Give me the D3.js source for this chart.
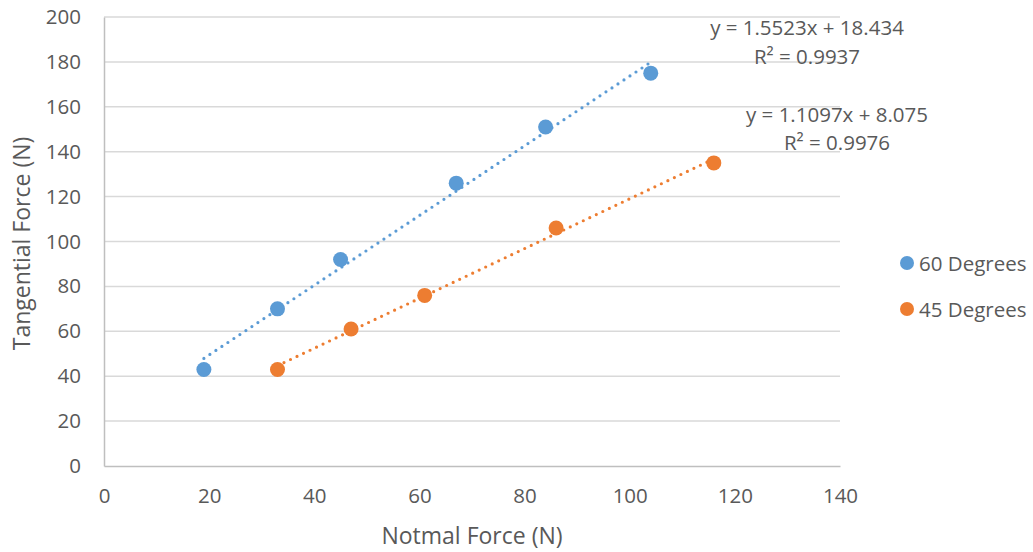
<!DOCTYPE html>
<html>
<head>
<meta charset="utf-8">
<script src="https://cdn.jsdelivr.net/npm/d3@7"></script>
<style>
  html, body { margin: 0; padding: 0; background: #fff; }
  svg text { font-family: "Open Sans", "Noto Sans", sans-serif; fill: #595959; }
</style>
</head>
<body>
<svg id="chart" width="1033" height="552"></svg>
<script>
// Measured forces for the two incline angles
const seriesNames = ["60 Degrees", "45 Degrees"];
const seriesColors = ["#5B9BD5", "#ED7D31"];
const normal60 = [19, 33, 45, 67, 84, 104];
const tangential60 = [43, 70, 92, 126, 151, 175];
const normal45 = [33, 47, 61, 86, 116];
const tangential45 = [43, 61, 76, 106, 135];

// Linear trendline fits shown on the chart
const slopes = [1.5523, 1.1097];
const intercepts = [18.434, 8.075];
const equationLabels = ["y = 1.5523x + 18.434", "y = 1.1097x + 8.075"];
const r2Labels = ["R² = 0.9937", "R² = 0.9976"];

const xTicks = [0, 20, 40, 60, 80, 100, 120, 140];
const yTicks = [0, 20, 40, 60, 80, 100, 120, 140, 160, 180, 200];

const svg = d3.select("#chart");
const plot = { left: 104, right: 840, top: 17, bottom: 466 };
const fontStack = '"Open Sans", "Noto Sans", sans-serif';

const x = d3.scaleLinear().domain([0, 140]).range([plot.left, plot.right]);
const y = d3.scaleLinear().domain([0, 200]).range([plot.bottom, plot.top]);

// Horizontal gridlines
svg.append("g")
  .selectAll("line")
  .data(yTicks.filter(d => d > 0))
  .join("line")
  .attr("x1", plot.left).attr("x2", plot.right)
  .attr("y1", d => y(d)).attr("y2", d => y(d))
  .attr("stroke", "#d9d9d9").attr("stroke-width", 1.5);

// Axes
const xAxis = svg.append("g")
  .attr("transform", `translate(0,${plot.bottom})`)
  .call(d3.axisBottom(x).tickValues(xTicks).tickSize(0).tickPadding(22));
const yAxis = svg.append("g")
  .attr("transform", `translate(${plot.left},0)`)
  .call(d3.axisLeft(y).tickValues(yTicks).tickSize(0).tickPadding(23));
[xAxis, yAxis].forEach(a => {
  a.select(".domain").attr("stroke", "#bfbfbf").attr("stroke-width", 1.5);
  a.selectAll("text").attr("font-size", 20.5).attr("fill", "#595959")
    .style("font-family", fontStack);
});

// Axis titles
svg.append("text")
  .attr("x", (plot.left + plot.right) / 2).attr("y", 544)
  .attr("text-anchor", "middle").attr("font-size", 23)
  .text("Notmal Force (N)");
svg.append("text")
  .attr("transform", `translate(30,${(plot.top + plot.bottom) / 2 + 2}) rotate(-90)`)
  .attr("text-anchor", "middle").attr("font-size", 23)
  .text("Tangential Force (N)");

const series = [
  { xs: normal60, ys: tangential60 },
  { xs: normal45, ys: tangential45 }
];

// Dotted trendlines spanning each series' x range
series.forEach((s, i) => {
  const x0 = d3.min(s.xs), x1 = d3.max(s.xs);
  const fit = v => slopes[i] * v + intercepts[i];
  svg.append("line")
    .attr("x1", x(x0)).attr("y1", y(fit(x0)))
    .attr("x2", x(x1)).attr("y2", y(fit(x1)))
    .attr("stroke", seriesColors[i]).attr("stroke-width", 3.2)
    .attr("stroke-linecap", "round")
    .attr("stroke-dasharray", "0,7.2");
});

// Data markers
series.forEach((s, i) => {
  svg.append("g")
    .selectAll("circle")
    .data(s.xs.map((v, k) => [v, s.ys[k]]))
    .join("circle")
    .attr("cx", d => x(d[0])).attr("cy", d => y(d[1]))
    .attr("r", 7.5)
    .attr("fill", seriesColors[i]);
});

// Trendline equations
const eqPos = [[807, 35, 64], [837, 122, 150]];
equationLabels.forEach((t, i) => {
  svg.append("text").attr("x", eqPos[i][0]).attr("y", eqPos[i][1])
    .attr("text-anchor", "middle").attr("font-size", 20.5).text(t);
  svg.append("text").attr("x", eqPos[i][0]).attr("y", eqPos[i][2])
    .attr("text-anchor", "middle").attr("font-size", 20.5).text(r2Labels[i]);
});

// Legend
const legend = svg.append("g");
seriesNames.forEach((name, i) => {
  const ly = 263 + i * 46;
  legend.append("circle").attr("cx", 907).attr("cy", ly).attr("r", 7)
    .attr("fill", seriesColors[i]);
  legend.append("text").attr("x", 919).attr("y", ly + 7.5)
    .attr("font-size", 20.5).text(name);
});
</script>
</body>
</html>
